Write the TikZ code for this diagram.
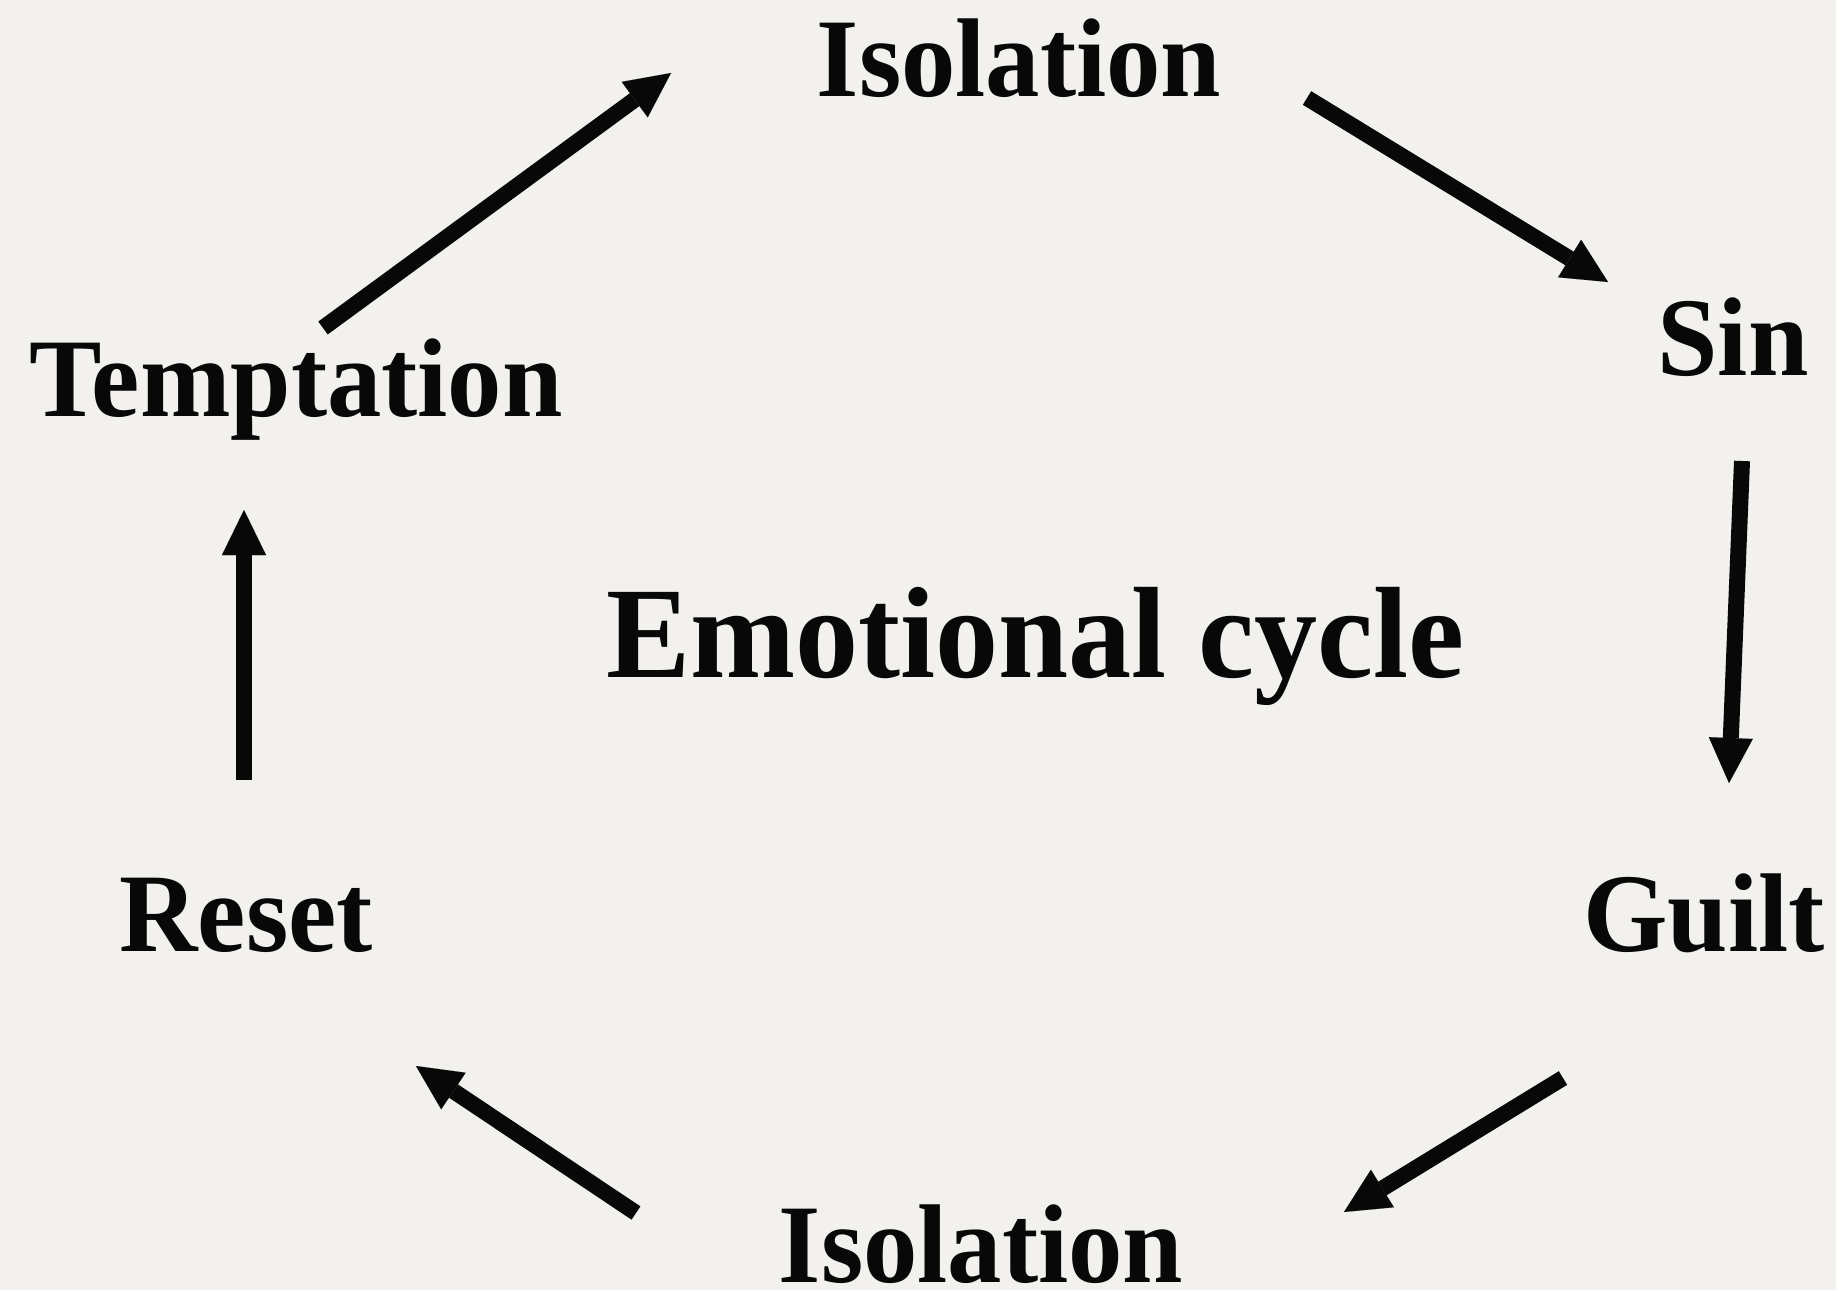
\documentclass[tikz,border=0pt]{standalone}
\usepackage{fontspec}
\newfontfamily\dispfont{Liberation Serif}
\usetikzlibrary{arrows.meta}
\definecolor{paper}{RGB}{242,241,237}
\definecolor{ink}{RGB}{8,8,8}
\begin{document}
\begin{tikzpicture}[x=1pt,y=-1pt,
  lbl/.style={inner sep=0pt, anchor=base, text=ink, xscale=0.97, transform shape,
    font=\dispfont\bfseries\fontsize{112}{120}\selectfont},
  title/.style={lbl, font=\dispfont\bfseries\fontsize{130}{140}\selectfont},
  cyc/.style={draw=ink, line width=16pt,
    -{Triangle[length=45pt,width=44pt,line width=0.01pt]}}]
\fill[paper] (0,0) rectangle (1836,1290);
\useasboundingbox (0,0) rectangle (1836,1290);

\node[lbl] (isotop) at (1019,96) {Isolation};
\node[lbl] (sin) at (1733,375) {Sin};
\node[lbl] (guilt) at (1704,951) {Guilt};
\node[lbl] (isobot) at (981,1282) {Isolation};
\node[lbl] (reset) at (246,951) {Reset};
\node[lbl] (tempt) at (296,416) {Temptation};
\node[title] (emo) at (1035,677) {Emotional cycle};

\coordinate (a1s) at (323,328);  \coordinate (a1e) at (671,73);
\coordinate (a2s) at (1307,98);  \coordinate (a2e) at (1608,282);
\coordinate (a3s) at (1742,461); \coordinate (a3e) at (1729,783);
\coordinate (a4s) at (1563,1078);\coordinate (a4e) at (1344,1212);
\coordinate (a5s) at (636,1213); \coordinate (a5e) at (416,1066);
\coordinate (a6s) at (244,780);  \coordinate (a6e) at (244,510);

\draw[cyc] (a1s) -- (a1e);
\draw[cyc] (a2s) -- (a2e);
\draw[cyc] (a3s) -- (a3e);
\draw[cyc] (a4s) -- (a4e);
\draw[cyc] (a5s) -- (a5e);
\draw[cyc] (a6s) -- (a6e);
\end{tikzpicture}
\end{document}
